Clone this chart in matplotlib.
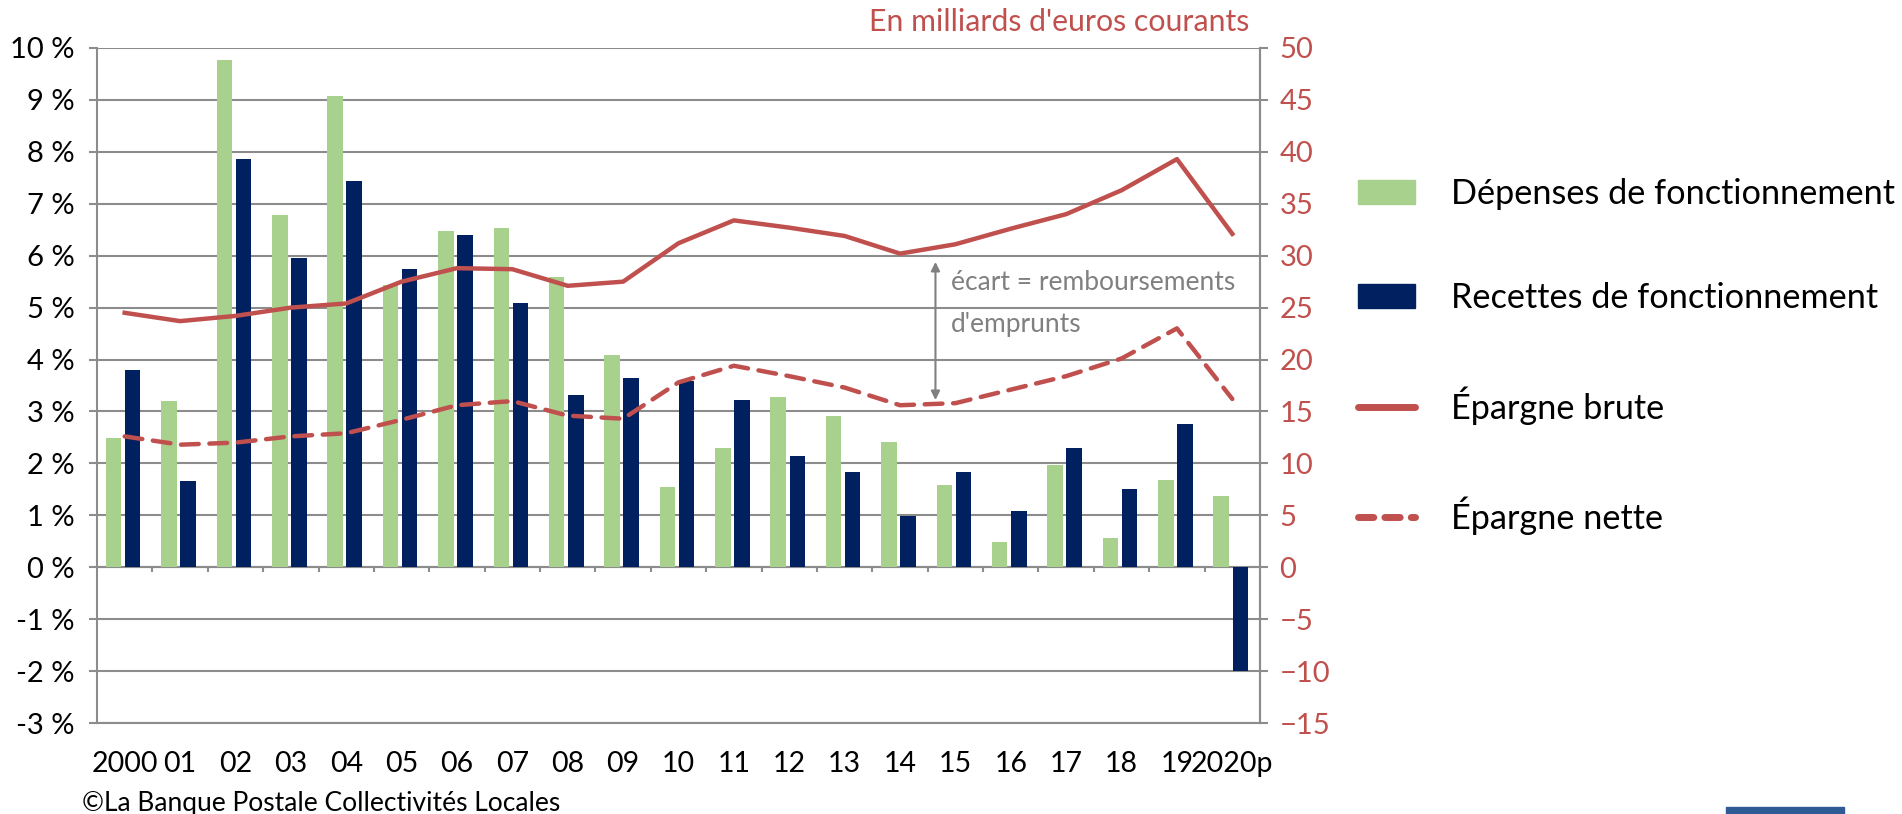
import numpy as np
import matplotlib.pyplot as plt
from matplotlib.patches import Rectangle
from matplotlib.lines import Line2D
from matplotlib.patches import Patch

plt.rcParams['font.family'] = ['Lato', 'DejaVu Sans']

years = ['2000', '01', '02', '03', '04', '05', '06', '07', '08', '09', '10',
         '11', '12', '13', '14', '15', '16', '17', '18', '19', '2020p']
depenses = [2.48, 3.21, 9.77, 6.79, 9.08, 5.43, 6.47, 6.53, 5.59, 4.09, 1.54,
            2.30, 3.27, 2.92, 2.42, 1.59, 0.48, 1.96, 0.56, 1.68, 1.38]
recettes = [3.79, 1.67, 7.87, 5.96, 7.44, 5.75, 6.39, 5.08, 3.31, 3.64, 3.59,
            3.23, 2.14, 1.84, 0.99, 1.84, 1.08, 2.29, 1.51, 2.75, -2.0]
epargne_brute = [24.5, 23.7, 24.2, 25.0, 25.4, 27.5, 28.8, 28.7, 27.1, 27.5, 31.2,
                 33.4, 32.7, 31.9, 30.2, 31.1, 32.6, 34.0, 36.3, 39.3, 32.1]
epargne_nette = [12.6, 11.8, 12.0, 12.6, 12.9, 14.2, 15.6, 16.0, 14.6, 14.3, 17.8,
                 19.4, 18.4, 17.3, 15.6, 15.8, 17.1, 18.4, 20.1, 23.0, 16.2]

green = '#A9D18E'
navy = '#002060'
red = '#C0504D'
grid = '#8C8C8C'

fig = plt.figure(figsize=(19.02, 8.14), dpi=100)
ax = fig.add_axes([97 / 1902, 91 / 814, (1260 - 97) / 1902, (723 - 48) / 814])
x = np.arange(len(years))

ax.bar(x - 0.2, depenses, width=0.28, color=green, zorder=2)
ax.bar(x + 0.145, recettes, width=0.28, color=navy, zorder=2)

ax.set_xlim(-0.5, len(years) - 0.5)
ax.set_ylim(-3, 10)
ax.set_yticks(range(-3, 11))
ax.set_yticklabels([f'{v} %' for v in range(-3, 11)])
ax.yaxis.grid(True, color=grid, lw=1.5)
ax.set_axisbelow(True)
ax.vlines(np.arange(0.5, len(years) - 1), -0.1, 0, color=grid, lw=1.5, zorder=1)
ax.axhline(0, color=grid, lw=1.5, zorder=1)
ax.set_xticks(x)
ax.set_xticklabels(years)
ax.tick_params(axis='x', length=0, pad=20, labelsize=20.5)
ax.tick_params(axis='y', length=6, width=1.5, color=grid, pad=10, labelsize=21)
for s in ax.spines.values():
    s.set_color(grid)
    s.set_linewidth(1.5)
ax.spines['top'].set_visible(False)

ax2 = ax.twinx()
ax2.plot(x, epargne_brute, color=red, lw=3.2, zorder=3)
ax2.plot(x, epargne_nette, color=red, lw=3.2, dashes=(4, 2.4), dash_capstyle='round', zorder=3)
ax2.set_ylim(-15, 50)
ax2.set_yticks(range(-15, 55, 5))
ax2.tick_params(axis='y', length=6, width=1.5, color=grid, pad=8, labelsize=21, labelcolor=red)
for s in ax2.spines.values():
    s.set_visible(False)
ax2.spines['right'].set_visible(True)
ax2.spines['right'].set_color(grid)
ax2.spines['right'].set_linewidth(1.5)

ax2.annotate('', xy=(14.64, 16.1), xytext=(14.64, 29.4),
             arrowprops=dict(arrowstyle='<|-|>', color='#808080', lw=1.5,
                             mutation_scale=13, shrinkA=0, shrinkB=0))
ax2.text(14.92, 27.4, 'écart = remboursements', color='#808080', fontsize=19, va='center')
ax2.text(14.92, 23.4, "d'emprunts", color='#808080', fontsize=19, va='center')

fig.text(1249 / 1902, 1 - 22 / 814, "En milliards d'euros courants", color=red,
         fontsize=21.8, ha='right', va='center')
fig.text(82 / 1902, 1 - 803 / 814, '©La Banque Postale Collectivités Locales',
         fontsize=19, ha='left', va='center')

handles = [Patch(color=green), Patch(color=navy),
           Line2D([], [], color=red, lw=5, solid_capstyle='round'),
           Line2D([], [], color=red, lw=5, dashes=(2.2, 1.6), dash_capstyle='round')]
labels = ['Dépenses de fonctionnement', 'Recettes de fonctionnement',
          'Épargne brute', 'Épargne nette']
fig.legend(handles, labels, loc='upper left', bbox_to_anchor=(1358 / 1902, 1 - 178 / 814),
           frameon=False, fontsize=24.7, handlelength=1.65, handletextpad=1.05,
           labelspacing=2.1, borderpad=0, borderaxespad=0)

fig.patches.append(Rectangle((1726 / 1902, 0), 118 / 1902, 7 / 814,
                             transform=fig.transFigure, color='#2E5A96'))

fig.savefig('out.png', dpi=100)
